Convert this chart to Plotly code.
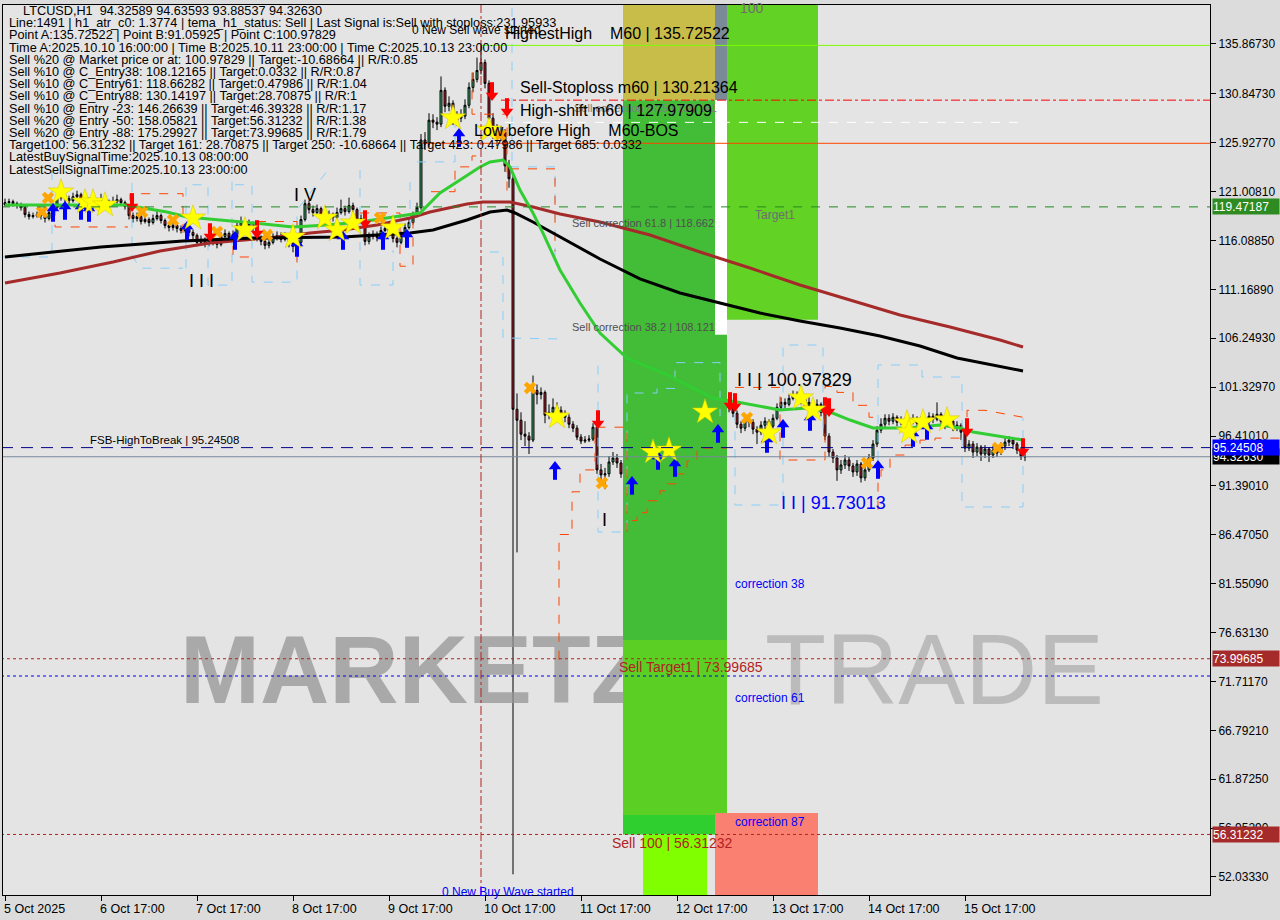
import plotly.graph_objects as go
from datetime import datetime, timedelta

# ---------------- DATA ----------------
START = datetime(2025, 10, 5, 17, 0)   # first hourly bar
first_open = 119.7
last_open = 94.32589

closes = [
    119.9,120.0,119.8,119.6,119.4,118.7,118.5,118.6,118.7,118.6,
    118.3,118.9,119.4,120.4,120.6,120.3,120.1,120.5,120.7,120.2,
    120.0,119.9,119.6,119.8,120.1,119.9,119.7,120.0,120.2,119.9,
    119.5,118.6,118.3,118.5,118.0,118.2,117.9,118.3,118.6,118.1,
    117.6,117.4,117.6,117.3,117.1,117.4,116.9,116.6,115.9,116.2,
    115.8,116.1,116.0,115.7,116.5,116.8,116.4,116.7,117.6,117.9,
    117.5,117.8,117.3,116.3,116.0,115.6,115.9,116.4,116.6,116.2,
    116.5,115.8,115.5,115.9,118.2,119.8,119.2,118.9,119.3,118.6,
    118.2,118.7,118.4,118.9,119.3,119.0,119.6,119.2,118.1,118.3,
    116.0,116.5,116.7,116.4,117.1,117.3,116.9,116.3,115.9,116.6,
    117.4,117.9,118.6,119.4,126.2,125.8,128.2,128.0,127.8,131.2,
    129.6,129.9,128.2,128.4,128.6,129.7,131.5,132.3,133.2,134.0,
    131.9,128.4,127.2,126.6,127.0,123.6,122.3,99.1,98.0,96.6,
    96.4,96.0,101.0,100.6,100.8,98.5,98.8,99.3,99.0,98.7,
    98.3,97.6,97.2,96.3,95.9,96.0,96.1,97.3,93.0,92.5,
    92.6,93.8,94.2,93.7,92.6,92.2,92.0,93.5,94.2,94.8,
    94.5,95.8,96.0,96.2,95.8,96.4,96.0,97.2,98.0,99.2,
    98.8,99.4,99.0,100.8,99.9,98.8,98.4,99.0,98.6,99.4,
    99.8,99.2,98.7,97.6,97.2,98.0,97.8,97.1,96.8,97.5,
    97.9,97.4,98.2,99.3,99.8,99.6,100.2,100.6,100.4,100.1,
    99.5,99.8,99.2,99.6,98.8,96.4,94.8,94.2,93.0,93.5,
    94.0,93.4,92.8,93.6,92.2,93.0,94.2,95.6,97.0,97.6,
    98.2,97.9,98.3,97.8,98.0,97.6,97.9,98.2,97.7,98.0,
    97.8,98.4,98.1,98.6,97.9,97.6,97.9,97.2,97.5,96.8,
    95.2,95.6,94.8,95.3,94.6,95.1,94.5,95.0,94.7,95.4,
    95.8,96.0,95.6,95.0,94.33,94.3263,
]
highs = [
    120.3,120.3,120.2,120.0,119.9,119.6,119.0,118.9,119.0,118.9,
    118.9,119.2,119.8,120.8,121.2,120.9,120.6,120.9,121.1,120.9,
    120.5,120.4,120.2,120.3,120.8,120.4,120.2,120.5,120.7,120.4,
    120.1,119.7,118.9,118.9,118.7,118.6,118.4,118.7,119.1,118.8,
    118.3,117.9,118.0,117.9,117.6,117.8,117.6,117.2,116.8,116.6,
    116.4,116.5,116.4,116.2,116.9,117.2,117.0,117.1,118.0,118.5,
    118.1,118.2,118.0,117.5,116.6,116.3,116.3,116.8,117.0,116.9,
    116.9,116.7,116.1,116.3,118.6,120.2,120.1,119.6,119.7,119.5,
    118.9,119.1,118.9,119.4,120.2,119.6,120.4,119.9,119.4,118.7,
    118.6,116.9,117.1,117.0,117.5,117.8,117.5,117.1,116.5,117.0,
    117.8,118.3,119.0,119.9,126.8,127.0,128.9,128.8,128.5,132.6,
    131.5,130.6,130.2,129.1,129.3,130.3,132.0,133.0,134.5,135.73,
    134.3,132.2,128.9,127.8,127.6,127.3,124.2,122.8,100.7,98.8,
    97.9,96.8,102.5,101.6,101.3,101.0,99.6,100.2,99.8,99.4,
    99.0,98.6,97.9,97.5,96.6,96.4,96.5,97.7,97.6,93.6,
    93.2,94.4,94.8,94.6,94.0,93.0,92.7,93.9,94.6,95.3,
    95.2,96.3,96.6,96.7,96.5,96.9,96.7,97.6,98.5,99.6,
    99.7,99.9,99.7,101.9,101.1,100.2,99.1,99.5,99.3,99.8,
    100.3,100.1,99.5,99.0,97.9,98.4,98.5,98.1,97.4,97.9,
    98.3,98.1,98.6,99.7,100.3,100.2,100.6,100.98,100.9,100.7,
    100.4,100.3,100.0,100.1,99.8,99.0,96.7,95.1,94.5,94.0,
    94.5,94.3,93.7,94.0,93.8,93.4,94.6,96.0,97.4,98.2,
    98.6,98.6,98.7,98.5,98.4,98.3,98.3,98.6,98.4,98.4,
    98.2,98.8,98.7,99.8,98.8,98.1,98.3,98.1,97.9,97.7,
    97.0,96.0,95.9,95.7,95.5,95.5,95.3,95.4,95.2,95.8,
    96.2,96.4,96.2,95.8,95.3,94.64,
]
lows = [
    119.5,119.6,119.5,119.3,119.1,118.4,118.2,118.3,118.4,118.2,
    117.9,118.1,118.7,119.2,120.1,119.9,119.7,119.9,120.2,119.9,
    119.6,119.5,119.2,119.3,119.6,119.5,119.4,119.5,119.8,119.6,
    119.2,118.2,117.9,118.0,117.7,117.8,117.5,117.7,118.1,117.8,
    117.3,117.0,117.1,116.9,116.8,116.9,116.5,116.2,115.5,115.6,
    115.4,115.5,115.6,115.3,115.5,116.3,116.1,116.2,116.5,117.4,
    117.2,117.3,117.0,116.0,115.6,115.2,115.3,115.7,116.1,115.9,
    116.0,115.4,114.9,115.2,115.7,118.0,118.8,118.5,118.6,118.3,
    117.8,118.0,118.0,118.2,118.7,118.6,118.8,118.9,117.8,117.9,
    115.6,115.7,116.2,116.0,116.2,116.9,116.5,115.9,115.4,115.7,
    116.4,117.2,117.7,118.4,119.2,125.2,125.5,127.4,127.2,127.5,
    129.0,129.1,127.7,127.6,128.0,128.3,129.4,131.0,132.0,132.8,
    131.4,127.5,126.3,125.6,126.1,123.0,121.4,52.3,84.7,96.0,
    95.4,94.6,95.8,99.6,100.1,97.7,98.1,98.5,98.5,98.2,
    97.8,97.2,96.8,96.0,95.6,95.7,95.8,95.9,92.6,91.8,
    91.06,92.3,93.5,93.2,92.2,91.6,91.3,91.8,93.2,93.9,
    94.1,94.3,95.4,95.6,95.3,95.5,95.6,95.8,96.9,97.8,
    98.4,98.5,98.6,98.8,99.5,98.4,98.0,98.1,98.2,98.4,
    99.2,98.8,98.3,97.2,96.7,96.9,97.3,96.6,95.6,96.5,
    97.1,96.9,97.2,98.0,99.0,99.2,99.4,100.0,99.9,99.6,
    99.1,99.2,98.8,98.9,98.4,96.0,94.3,93.7,91.9,92.6,
    93.1,92.9,92.3,92.4,91.73,91.9,92.8,93.9,95.3,96.7,
    97.3,97.5,97.6,97.4,97.5,97.2,97.3,97.6,97.3,97.4,
    97.3,97.6,97.7,97.9,97.5,97.1,97.3,96.9,96.9,96.0,
    94.8,94.9,94.2,94.4,93.9,94.2,93.8,94.2,94.3,94.5,
    95.0,95.4,95.1,94.6,94.0,93.89,
]

# moving averages (bar index, price)
green_bars = [0,15.5,30.5,34.5,40.5,45.5,51.25,62,72,80.5,88.75,97,101.25,103.75,108.75,113.75,118.75,121.25,124.5,126.25,128.75,132,134.5,138.75,143.75,148.75,155.5,165.5,168.75,177,183,193.75,200.5,206.25,211.25,217,225.5,233.75,238.75,242,250.5,254.5]
green_vals = [119.66,119.66,119.66,119.36,118.96,118.45,118.25,117.85,117.45,117.65,117.95,118.45,118.76,118.86,120.87,122.18,123.49,123.99,124.19,123.49,121.17,118.86,116.84,113.12,109.80,106.78,104.26,102.6,101.9,100.24,99.84,99.03,99.23,98.83,98.02,97.22,97.22,97.52,97.22,96.82,96.31,96.01]
black_bars = [0,12,13,24,44.5,62,84.5,101.25,107,115.5,121.25,125.5,127.5,132,137,148.75,158.75,168.75,178.75,188.75,198.75,208.75,218.75,228.75,238,254.5]
black_vals = [114.43,114.93,115.03,115.43,116.04,116.34,116.44,116.84,117.15,118.15,118.96,119.16,118.86,117.95,116.84,114.23,112.22,110.81,109.80,108.79,107.99,107.28,106.48,105.47,104.26,102.96]
brown_bars = [0,13.75,27,38.75,51.25,68,76.25,84.5,93,101.25,106.25,115.5,119.5,126.25,132,138.75,148.75,161.25,173.75,186.25,198.75,211.25,223.75,236.25,248.75,254.5]
brown_vals = [111.82,112.82,113.92,115.03,115.84,116.44,116.84,117.15,117.65,118.35,118.96,119.76,119.96,119.96,119.46,118.76,117.95,116.64,114.93,113.32,111.61,110.10,108.59,107.38,106.07,105.37]

# signal markers (bar index, price)
star_bars = [14,20,22,25,47,60,72,80,83,87,97,112,121,138,162,166,175,191,199,202,225.5,226,229.5,235.5]
star_vals = [120.97,119.96,119.96,119.66,118.35,117.15,116.44,118.35,117.15,117.85,117.35,128.42,127.21,98.33,94.8,95.0,98.83,96.72,100.24,99.03,97.73,96.82,97.83,98.03]
buy_bars = [12,15,19,21,45.5,57.5,73,84.5,94.5,100.5,113.5,137.5,156.75,163.25,167.5,178.25,190.5,194.5,201.25,218.25,227,230.5]
buy_vals = [118.96,119.16,119.16,118.96,117.15,116.14,115.44,116.14,116.14,116.34,126.5,92.99,91.49,94.0,93.29,96.72,95.71,97.22,97.92,93.09,96.31,97.02]
sell_bars = [31.75,51.25,63,90,121.75,125.5,148.25,181.25,182.5,205,206,240.5,254.5]
sell_vals = [119.87,116.84,117.15,118.15,131.04,129.43,98.02,99.84,99.74,99.33,99.23,97.22,95.2]
cross_bars = [9.25,10.75,34.25,42,53,65.5,93.75,123.75,131.25,149.25,185.5,215.5,248.25]
cross_vals = [118.96,120.37,118.96,118.15,116.95,116.64,118.35,126.71,101.25,91.69,98.23,93.7,95.2]

# key levels
highest_high = 135.72522
sell_stoploss = 130.21364
high_shift = 127.97909
low_before_high = 125.87
target1_level = 119.47187
fsb_level = 95.24508
bid_price = 94.32630
sell_target1 = 73.99685
corr_line = 72.26
sell_100 = 56.31232
pointA_bar = 119

# zones: (bar0, bar1, price0, price1, colour)
zones = [
    (154.5, 177.5, 130.21364, 141.0, '#c9bd4a'),
    (177.5, 180.5, 130.21364, 141.0, '#7a8a99'),
    (154.5, 177.5, 75.88, 130.21364, '#43bd37'),
    (177.5, 180.5, 106.6, 130.21364, '#ffffff'),
    (177.5, 180.5, 75.88, 106.6, '#43bd37'),
    (154.5, 180.5, 58.27, 75.88, '#5ccf24'),
    (154.5, 177.5, 56.31232, 58.27, '#2fcf2f'),
    (177.5, 180.5, 56.31232, 58.47, '#7a8a99'),
    (159.5, 175.5, 49.0, 56.31232, '#80ff00'),
    (177.5, 203.25, 49.0, 58.47, '#fa8072'),
    (180.5, 203.25, 108.121, 141.0, '#62d224'),
]

# dashed envelope paths (bar list, price list)
blue_paths = [
    ([-0.5, 11.75, 11.75], [114.43, 114.43, 123.18]),
    ([31.75, 31.75, 33.75, 44.5], [123.7, 114.6, 113.3, 113.3]),
    ([45.25, 45.25, 50.75, 50.75, 56.75, 56.75], [113.3, 121.7, 121.7, 111.6, 111.6, 124.2]),
    ([57.5, 61.75, 61.75, 73, 73, 80.75], [121.7, 121.7, 111.9, 111.9, 119.16, 123.18]),
    ([88.75, 88.75, 97, 97], [123.18, 111.61, 111.61, 115.13]),
    ([101.25, 101.25], [117.45, 122.7]),
    ([103, 112.5, 112.5], [124.0, 124.0, 128.2]),
    ([126.75, 126.75], [139.5, 124.0]),
    ([121.25, 124.5, 124.5, 138.75], [114.93, 114.93, 106.28, 106.18]),
    ([126.25, 137.5, 137.5], [123.5, 123.5, 114.4]),
    ([148.25, 148.25, 155.5, 155.5, 163, 163, 167.5, 167.5, 178.75, 178.75], [103.5, 86.75, 86.75, 100.74, 100.74, 101.2, 101.2, 103.8, 103.8, 98.4]),
    ([182.5, 182.5, 194.5, 194.5, 204.5, 204.5], [100.5, 89.47, 89.47, 105.57, 105.57, 96.5]),
    ([218.25, 218.25, 229.25, 229.25, 239.25, 239.25, 254.5, 254.5], [94.0, 103.56, 103.56, 102.35, 102.35, 89.27, 89.27, 98.2]),
]
orange_paths = [
    ([12.5, 12.5, 30.75], [119.5, 117.45, 117.45]),
    ([31.25, 31.25, 44.5, 44.5, 57, 57, 61.5], [118.3, 120.8, 120.8, 116.14, 116.14, 114.43, 114.43]),
    ([63, 73, 73], [118.0, 118.0, 113.0]),
    ([88.75, 98.75, 98.75, 102, 102], [118.86, 118.86, 113.5, 113.5, 118.0]),
    ([106.5, 112.5, 112.5, 116.75, 116.75, 118.75], [121.0, 121.0, 123.5, 123.5, 124.6, 124.6]),
    ([116.75, 116.75, 120.75, 125.5, 125.5], [133.0, 128.8, 128.8, 128.8, 121.0]),
    ([126.25, 137.5, 137.5], [123.3, 123.3, 115.0]),
    ([138.5, 138.5, 141.75, 141.75, 143.75, 143.75, 147.5, 147.5, 155.5, 155.5], [73.9, 86.5, 86.5, 90.8, 90.8, 93.0, 93.0, 97.3, 97.3, 86.0]),
    ([156.75, 158, 158, 160.5, 160.5, 163.75, 163.75, 165.5, 165.5, 168, 168, 170.5, 170.5, 173, 173, 180.5], [87.9, 87.9, 88.7, 88.7, 89.9, 89.9, 90.9, 90.9, 91.6, 91.6, 92.6, 92.6, 93.9, 93.9, 95.2, 95.2]),
    ([182.5, 193.75, 193.75, 205, 205, 208, 208, 212, 212, 216, 216, 218], [101.3, 101.3, 94.0, 94.0, 101.4, 101.4, 100.8, 100.8, 99.5, 99.5, 98.3, 98.3]),
    ([218.25, 218.25, 219, 219, 221.25, 221.25, 225, 225, 228.75, 228.75, 232.5, 232.5, 240], [89.0, 92.0, 92.0, 93.0, 93.0, 94.5, 94.5, 95.5, 95.5, 96.0, 96.0, 96.2, 96.2]),
    ([240.5, 240.5, 245, 250, 254.5], [96.5, 99.0, 99.0, 98.6, 98.3]),
]

ytick_vals = [135.8673, 130.8473, 125.9277, 121.0081, 116.0885, 111.1689, 106.2493,
              101.3297, 96.4101, 91.3901, 86.4705, 81.5509, 76.6313, 71.7117,
              66.7921, 61.8725, 56.9529, 52.0333]
xtick_bars = [0, 24, 48, 72, 96, 120, 144, 168, 192, 216, 240]
xtick_labels = ["5 Oct 2025", "6 Oct 17:00", "7 Oct 17:00", "8 Oct 17:00", "9 Oct 17:00",
                "10 Oct 17:00", "11 Oct 17:00", "12 Oct 17:00", "13 Oct 17:00",
                "14 Oct 17:00", "15 Oct 17:00"]

info_lines = [
    "    LTCUSD,H1  94.32589 94.63593 93.88537 94.32630",
    "Line:1491 | h1_atr_c0: 1.3774 | tema_h1_status: Sell | Last Signal is:Sell with stoploss:231.95933",
    "Point A:135.72522 | Point B:91.05925 | Point C:100.97829",
    "Time A:2025.10.10 16:00:00 | Time B:2025.10.11 23:00:00 | Time C:2025.10.13 23:00:00",
    "Sell %20 @ Market price or at: 100.97829 || Target:-10.68664 || R/R:0.85",
    "Sell %10 @ C_Entry38: 108.12165 || Target:0.0332 || R/R:0.87",
    "Sell %10 @ C_Entry61: 118.66282 || Target:0.47986 || R/R:1.04",
    "Sell %10 @ C_Entry88: 130.14197 || Target:28.70875 || R/R:1",
    "Sell %10 @ Entry -23: 146.26639 || Target:46.39328 || R/R:1.17",
    "Sell %20 @ Entry -50: 158.05821 || Target:56.31232 || R/R:1.38",
    "Sell %20 @ Entry -88: 175.29927 || Target:73.99685 || R/R:1.79",
    "Target100: 56.31232 || Target 161: 28.70875 || Target 250: -10.68664 || Target 423: 0.47986 || Target 685: 0.0332",
    "LatestBuySignalTime:2025.10.13 08:00:00",
    "LatestSellSignalTime:2025.10.13 23:00:00",
]

# ---------------- BUILD ----------------
FONT = "Liberation Sans, Arial, sans-serif"
W, H = 1280, 920
PL, PR, PT, PB = 3, 1210, 5, 895
Y0, Y1 = 50.22, 139.79


def bt(i):
    return START + timedelta(hours=float(i))


def px(x):
    return (x - PL) / (PR - PL)


def py(y):
    return (PB - y) / (PB - PT)


n = min(len(closes), len(highs), len(lows))
times = [bt(i) for i in range(n)]
opens = [first_open] + closes[:n - 1]
opens[-1] = last_open

fig = go.Figure()

# watermark (behind zones)
fig.add_trace(go.Scatter(x=[bt(43.75)], y=[72.0], mode='text', text=['<b>MARKETZI</b>'],
                         textposition='middle right', hoverinfo='skip', showlegend=False,
                         textfont=dict(size=96, color='rgba(150,150,150,0.75)', family=FONT)))
fig.add_trace(go.Scatter(x=[bt(190)], y=[72.0], mode='text', text=['TRADE'],
                         textposition='middle right', hoverinfo='skip', showlegend=False,
                         textfont=dict(size=100, color='rgba(170,170,170,0.7)', family=FONT)))

# zones
for b0, b1, p0, p1, col in zones:
    fig.add_trace(go.Scatter(x=[bt(b0), bt(b1), bt(b1), bt(b0), bt(b0)], y=[p0, p0, p1, p1, p0],
                             fill='toself', fillcolor=col, mode='lines', line=dict(width=0),
                             hoverinfo='skip', showlegend=False))

# dashed envelopes
for bars, vals in blue_paths:
    fig.add_trace(go.Scatter(x=[bt(b) for b in bars], y=vals, mode='lines',
                             line=dict(color='#87cefa', width=1, dash='dash'),
                             hoverinfo='skip', showlegend=False))
for bars, vals in orange_paths:
    fig.add_trace(go.Scatter(x=[bt(b) for b in bars], y=vals, mode='lines',
                             line=dict(color='#ff4500', width=1, dash='dash'),
                             hoverinfo='skip', showlegend=False))

# candles
fig.add_trace(go.Candlestick(
    x=times, open=opens, high=highs[:n], low=lows[:n], close=closes[:n],
    increasing=dict(line=dict(color='black', width=1), fillcolor='#3cb371'),
    decreasing=dict(line=dict(color='black', width=1), fillcolor='#b8202e'),
    whiskerwidth=0, showlegend=False, hoverinfo='skip'))

# moving averages
for bars, vals, col in [(brown_bars, brown_vals, '#a52a2a'), (black_bars, black_vals, '#000000'),
                        (green_bars, green_vals, '#32cd32')]:
    fig.add_trace(go.Scatter(x=[bt(b) for b in bars], y=vals, mode='lines',
                             line=dict(color=col, width=3), hoverinfo='skip', showlegend=False))

# signal markers
fig.add_trace(go.Scatter(x=[bt(b) for b in cross_bars], y=cross_vals, mode='markers',
                         marker=dict(symbol='x', size=11, color='#ffa500', line=dict(width=0)),
                         hoverinfo='skip', showlegend=False))
# arrows: shaft + head drawn from the same signal points
for bars, vals, col, head, shift in [(buy_bars, buy_vals, '#0000ff', 'triangle-up', 1),
                                     (sell_bars, sell_vals, '#ff0000', 'triangle-down', -1)]:
    xs = [bt(b) for b in bars]
    fig.add_trace(go.Scatter(x=xs, y=[v - shift * 0.35 for v in vals], mode='markers',
                             marker=dict(symbol='line-ns', size=9, line=dict(width=4, color=col)),
                             hoverinfo='skip', showlegend=False))
    fig.add_trace(go.Scatter(x=xs, y=[v + shift * 0.35 for v in vals], mode='markers',
                             marker=dict(symbol=head, size=11, color=col, line=dict(width=0)),
                             hoverinfo='skip', showlegend=False))
fig.add_trace(go.Scatter(x=[bt(b) for b in star_bars], y=star_vals, mode='markers',
                         marker=dict(symbol='star', size=19, color='#ffff00',
                                     line=dict(width=0.5, color='#d4c000')),
                         hoverinfo='skip', showlegend=False))

# horizontal / vertical level lines
shapes = []


def hline(price, b0, b1, color, dash, width=1):
    shapes.append(dict(type='line', xref='x', yref='y', x0=bt(b0), x1=bt(b1), y0=price, y1=price,
                       line=dict(color=color, width=width, dash=dash), layer='above'))


XR = 301.25
hline(highest_high, 119, XR, '#7cfc00', 'solid')
hline(sell_stoploss, 124, XR, '#ff0000', 'dashdot')
hline(high_shift, 125, 254.5, '#ffffff', 'dash')
hline(low_before_high, 104, XR, '#ff4500', 'solid')
hline(target1_level, -1, XR, '#228b22', 'dash')
hline(fsb_level, -1, XR, '#00008b', '12px,8px')
hline(bid_price, -1, XR, '#778899', 'solid')
hline(sell_target1, -1, XR, '#b22222', 'dot')
hline(corr_line, -1, XR, '#0000ff', 'dot')
hline(sell_100, -1, XR, '#b22222', 'dot')
shapes.append(dict(type='line', xref='x', yref='paper', x0=bt(pointA_bar), x1=bt(pointA_bar), y0=0, y1=1,
                   line=dict(color='#b22222', width=1, dash='dashdot'), layer='above'))

# ---------------- ANNOTATIONS ----------------
ann = []
for k, line in enumerate(info_lines):
    ann.append(dict(x=px(7), y=py(11 + k * 12.2), xref='paper', yref='paper', text=line,
                    showarrow=False, xanchor='left', yanchor='middle',
                    font=dict(family=FONT, size=12.7, color='black')))


def lab(b, p, text, size, color='black'):
    ann.append(dict(x=bt(b), y=p, xref='x', yref='y', text=text, showarrow=False,
                    xanchor='left', yanchor='middle', font=dict(family=FONT, size=size, color=color)))


lab(101.25, 137.28, "0 New Sell wave started", 12)
lab(124.5, 136.97, "HighestHigh    M60 | 135.72522", 16)
lab(141.75, 129.43, "Sell correction 87.5 | 130.141", 11, '#808080')
lab(128.25, 131.44, "Sell-Stoploss m60 | 130.21364", 16)
lab(128.25, 129.22, "High-shift m60 | 127.97909", 16)
lab(116.75, 127.11, "Low before High    M60-BOS", 16)
lab(141.25, 117.85, "Sell correction 61.8 | 118.662", 11, '#505050')
lab(141.25, 107.38, "Sell correction 38.2 | 108.121", 11, '#505050')
lab(187, 118.66, "Target1", 12, '#6f6f6f')
lab(183.25, 139.49, "100", 14, '#6f6f6f')
lab(71.75, 120.67, "I V", 18)
lab(45.5, 112.02, "I I I", 18)
lab(148.75, 87.96, "I", 18)
lab(182.5, 102.05, "I I | 100.97829", 18)
lab(193.5, 89.67, "I I | 91.73013", 18, '#0000ff')
lab(182, 81.52, "correction 38", 12, '#0000ff')
lab(182, 70.05, "correction 61", 12, '#0000ff')
lab(182, 57.57, "correction 87", 12, '#0000ff')
lab(153, 73.17, "Sell Target1 | 73.99685", 14, '#b22222')
lab(151.25, 55.45, "Sell 100 | 56.31232", 14, '#b22222')
lab(20.75, 96.01, "FSB-HighToBreak | 95.24508", 11.5)
lab(108.75, 50.5, "0 New Buy Wave started", 12, '#0000ff')

# x tick labels (MT4 style, left aligned at tick)
for b, t in zip(xtick_bars, xtick_labels):
    ann.append(dict(x=bt(b), y=0, xref='x', yref='paper', text=t, showarrow=False,
                    xanchor='left', yanchor='top', xshift=-3, yshift=-5,
                    font=dict(family=FONT, size=12.5, color='black')))

# price tags on the right axis
for p, bg in [(bid_price, '#000000'), (target1_level, '#2e8b22'), (fsb_level, '#0000ff'),
              (sell_target1, '#a52a2a'), (sell_100, '#a52a2a')]:
    ann.append(dict(x=1, y=p, xref='paper', yref='y', text=f"{p:.5f}", showarrow=False,
                    xanchor='left', yanchor='middle', xshift=2, bgcolor=bg, width=66, height=15,
                    align='left', borderpad=0,
                    font=dict(family=FONT, size=12, color='white')))

fig.update_layout(
    width=W, height=H, template='none',
    margin=dict(l=PL, r=W - PR, t=PT, b=H - PB, autoexpand=False),
    paper_bgcolor='#dcdcdc', plot_bgcolor='#e4e4e4',
    showlegend=False, hovermode=False,
    shapes=shapes, annotations=ann,
    xaxis=dict(type='date', range=[bt(-0.5), bt(XR)], rangeslider=dict(visible=False),
               tickvals=[bt(b) for b in xtick_bars], showticklabels=False,
               ticks='outside', ticklen=5, tickcolor='black',
               showgrid=False, zeroline=False, showline=True, mirror=True,
               linecolor='black', linewidth=1, automargin=False),
    yaxis=dict(range=[Y0, Y1], side='right', tickvals=ytick_vals,
               ticktext=[f"{v:.5f}" for v in ytick_vals], ticks='outside', ticklen=5,
               tickcolor='black', tickfont=dict(family=FONT, size=12, color='black'),
               showgrid=False, zeroline=False, showline=True, mirror=True,
               linecolor='black', linewidth=1, automargin=False),
)

fig.write_html("out.html", config=dict(displayModeBar=False),
               post_script="document.body.style.margin='0';")
